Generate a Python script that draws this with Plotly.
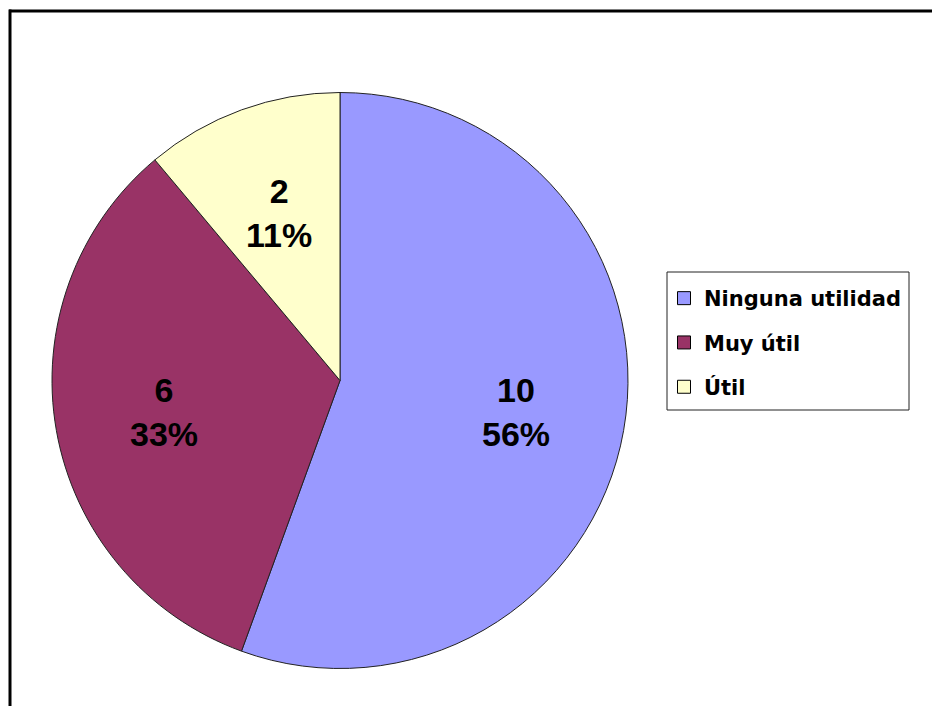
import math
import plotly.graph_objects as go

categories = ["Ninguna utilidad", "Muy útil", "Útil"]
values = [10, 6, 2]
colors = ["#9999FF", "#993366", "#FFFFCC"]

# page has an 8px body margin; figure is sized/positioned to compensate
OFF = 8
W, H = 940 - OFF, 706 - OFF


def px(x):
    return (x - OFF) / W


def py(y):
    return 1 - (y - OFF) / H


# pie geometry (reference pixels)
PIE_L, PIE_R, PIE_T, PIE_B = 52, 628, 91, 670
cxp, cyp = (PIE_L + PIE_R) / 2, (PIE_T + PIE_B) / 2
R = min(PIE_R - PIE_L, PIE_B - PIE_T) / 2

fig = go.Figure()
fig.add_trace(go.Pie(
    labels=categories,
    values=values,
    sort=False,
    direction="clockwise",
    rotation=0,
    marker=dict(colors=colors, line=dict(color="#222222", width=1)),
    textinfo="none",
    domain=dict(x=[px(PIE_L), px(PIE_R)], y=[py(PIE_B), py(PIE_T)]),
    showlegend=False,
    hoverinfo="label+value+percent",
))

# data labels at the middle angle of each slice
total = sum(values)
cum = 0
annotations = []
for v in values:
    mid = (cum + v / 2) / total * 2 * math.pi
    cum += v
    r = 0.62 * R
    lx = cxp + r * math.sin(mid)
    ly = cyp - r * math.cos(mid)
    annotations.append(dict(
        x=px(lx), y=py(ly), xref="paper", yref="paper", showarrow=False,
        text=f"{v}<br>{round(v / total * 100)}%",
        font=dict(family="Liberation Sans, Arial, sans-serif", size=34, color="black", weight="bold"),
        xanchor="center", yanchor="middle",
    ))

# legend entries (one per category) so the legend spacing can match
for c, col in zip(categories, colors):
    fig.add_trace(go.Scatter(
        x=[None], y=[None], mode="markers", name=c, legendgroup=c,
        marker=dict(symbol="square", size=13, color=col, line=dict(color="black", width=1)),
    ))

fig.update_layout(
    width=W, height=H,
    margin=dict(l=0, r=0, t=0, b=0),
    paper_bgcolor="white", plot_bgcolor="white",
    xaxis=dict(visible=False), yaxis=dict(visible=False),
    showlegend=True,
    legend=dict(
        x=px(664), y=py(278), xanchor="left", yanchor="top",
        borderwidth=0, bgcolor="rgba(0,0,0,0)",
        font=dict(family="DejaVu Sans, Verdana, sans-serif", size=21, color="black", weight="bold"),
        tracegroupgap=14, itemwidth=30,
    ),
    annotations=annotations,
    shapes=[
        dict(type="rect", xref="paper", yref="paper", x0=px(667), x1=px(909), y0=py(410), y1=py(272),
             line=dict(color="#222222", width=1), fillcolor="white", layer="below"),
        dict(type="line", xref="paper", yref="paper", x0=px(9), x1=1.02, y0=py(11), y1=py(11),
             line=dict(color="black", width=3)),
        dict(type="line", xref="paper", yref="paper", x0=px(10), x1=px(10), y0=py(9.5), y1=-0.02,
             line=dict(color="black", width=3)),
    ],
)

fig.write_html("out.html")
